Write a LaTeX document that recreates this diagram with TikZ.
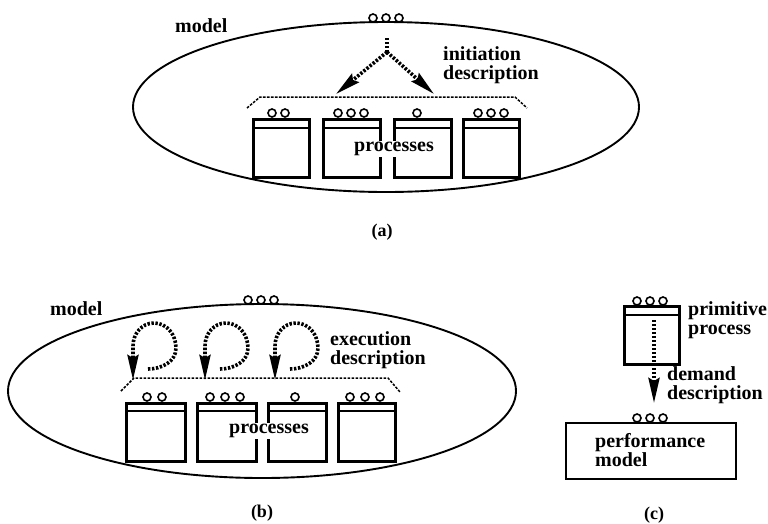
\documentclass[tikz,border=0pt]{standalone}
\usepackage{fontspec}
\setmainfont{Liberation Serif}
\usetikzlibrary{arrows.meta,shapes.geometric}
\begin{document}
\begin{tikzpicture}[x=1pt,y=-1pt,
  lbl/.style={font=\bfseries\fontsize{20}{18.5}\selectfont, inner sep=0pt, align=left},
  captxt/.style={font=\bfseries\fontsize{18}{18}\selectfont, inner sep=0pt},
  modelring/.style={draw, ellipse, line width=1.9pt, inner sep=0pt},
  procbox/.style={draw, rectangle, line width=2.8pt, inner sep=0pt, anchor=north west},
  port/.style={draw, line width=1.6pt, fill=white},
  flowline/.style={line width=3.6pt, dash pattern=on 2.4pt off 1.6pt},
  flow/.style={flowline, -{Stealth[length=25pt,width=11pt,inset=3pt]}},
  bracket/.style={line width=1.5pt, dash pattern=on 2.6pt off 1.4pt},
]
\useasboundingbox (0,0) rectangle (768,523);

% ---------------- (a) initiation ----------------
\node[modelring, minimum width=506pt, minimum height=170pt] (ma) at (386,107) {};
\foreach \x in {373,386,399} \draw[port] (\x,18) circle (4pt);
\node[lbl, anchor=base west] (modela) at (175,32) {model};

\node[procbox, minimum width=56pt, minimum height=58pt] (a1) at (252,118) {};
\node[procbox, minimum width=57pt, minimum height=58pt] (a2) at (322,118) {};
\node[procbox, minimum width=57pt, minimum height=58pt] (a3) at (393,118) {};
\node[procbox, minimum width=56pt, minimum height=58pt] (a4) at (462,118) {};
\foreach \b in {a1,a2,a3,a4}
  \draw[line width=2.2pt] ([yshift=-10pt]\b.north west) -- ([yshift=-10pt]\b.north east);
\foreach \x in {272,285} \draw[port] (\x,113) circle (4pt);
\foreach \x in {338,351,364} \draw[port] (\x,113) circle (4pt);
\draw[port] (417,113) circle (4pt);
\foreach \x in {478,491,504} \draw[port] (\x,113) circle (4pt);
\node[lbl, fill=white, inner sep=1pt] (procsa) at (394,149) {processes};

\coordinate (bra1) at (247,108);
\coordinate (bra2) at (260,97);
\coordinate (bra3) at (515,97);
\coordinate (bra4) at (527,108);
\draw[bracket] (bra1) -- (bra2) -- (bra3) -- (bra4);

\coordinate (srca) at (387,38);
\coordinate (fork) at (387,52);
\coordinate (tipL) at (336,94);
\coordinate (tipR) at (434,94);
\draw[flowline] (srca) -- (fork);
\draw[flow] (fork) -- (tipL);
\draw[flow] (fork) -- (tipR);
\node[lbl, anchor=base west] (inita) at (443,79) {initiation\\description};

\node[captxt] (capa) at (382,232) {(a)};

% ---------------- (b) execution ----------------
\node[modelring, minimum width=508pt, minimum height=174pt] (mb) at (262,391) {};
\foreach \x in {248,261,274} \draw[port] (\x,300) circle (4pt);
\node[lbl, anchor=base west] (modelb) at (50,315) {model};

\node[procbox, minimum width=59pt, minimum height=58pt] (b1) at (125,402) {};
\node[procbox, minimum width=59pt, minimum height=58pt] (b2) at (196,402) {};
\node[procbox, minimum width=58pt, minimum height=58pt] (b3) at (267,402) {};
\node[procbox, minimum width=57pt, minimum height=58pt] (b4) at (337,402) {};
\foreach \b in {b1,b2,b3,b4}
  \draw[line width=2.2pt] ([yshift=-9pt]\b.north west) -- ([yshift=-9pt]\b.north east);
\foreach \x in {147,162} \draw[port] (\x,397) circle (4pt);
\foreach \x in {210,225,240} \draw[port] (\x,397) circle (4pt);
\draw[port] (295,397) circle (4pt);
\foreach \x in {350,365,380} \draw[port] (\x,397) circle (4pt);
\node[lbl, fill=white, inner sep=1pt] (procsb) at (269,431) {processes};

\coordinate (brb1) at (121,391);
\coordinate (brb2) at (134,378);
\coordinate (brb3) at (388,378);
\coordinate (brb4) at (400,392);
\draw[bracket] (brb1) -- (brb2) -- (brb3) -- (brb4);

\foreach \dx [count=\i] in {0,72,142} {
  \coordinate (tail\i) at (148+\dx,369);
  \coordinate (east\i) at (176+\dx,348);
  \coordinate (top\i)  at (154+\dx,323);
  \coordinate (west\i) at (133+\dx,346);
  \coordinate (tip\i)  at (133+\dx,380);
  \draw[flow] (tail\i) to[out=0,in=-90] (east\i) to[out=90,in=0] (top\i)
        to[out=180,in=90] (west\i) -- (tip\i);
}
\node[lbl, anchor=base west] (execb) at (330,364) {execution\\description};

\node[captxt] (capb) at (262,513) {(b)};

% ---------------- (c) demand ----------------
\node[procbox, minimum width=55pt, minimum height=58pt] (prim) at (623,305) {};
\draw[line width=2.2pt] ([yshift=-10pt]prim.north west) -- ([yshift=-10pt]prim.north east);
\foreach \x in {637,650,663} \draw[port] (\x,301) circle (4pt);
\node[lbl, anchor=base west] (primlbl) at (688,334) {primitive\\process};

\node[procbox, minimum width=170pt, minimum height=56pt, line width=2.2pt] (perf) at (565,422) {};
\foreach \x in {637,650,663} \draw[port] (\x,418) circle (4pt);
\node[lbl, anchor=base west] (perflbl) at (595,466) {performance\\model};

\coordinate (dsrc) at (654,320);
\coordinate (dtip) at (654,403);
\draw[flow] (dsrc) -- (dtip);
\node[lbl, anchor=base west] (demlbl) at (667,399) {demand\\description};

\node[captxt] (capc) at (654,515) {(c)};
\end{tikzpicture}
\end{document}
